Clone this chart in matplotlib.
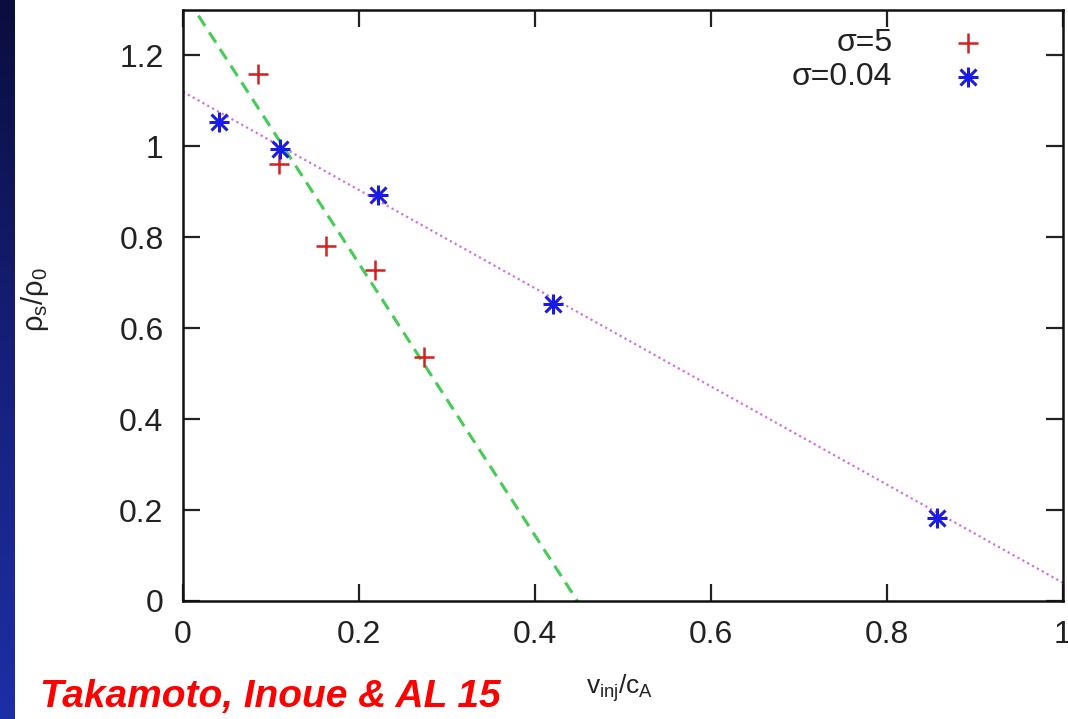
import numpy as np
import matplotlib
matplotlib.use("Agg")
import matplotlib.pyplot as plt
from matplotlib.colors import LinearSegmentedColormap

plt.rcParams['font.family'] = ['Liberation Sans', 'DejaVu Sans']
plt.rcParams['mathtext.fontset'] = 'custom'
plt.rcParams['mathtext.rm'] = 'Liberation Sans'
plt.rcParams['mathtext.it'] = 'Liberation Sans'

# sigma = 5 runs
v_sigma5 = [0.085, 0.109, 0.1625, 0.218, 0.274]
rho_sigma5 = [1.16, 0.961, 0.781, 0.728, 0.5375]
# sigma = 0.04 runs
v_sigma004 = [0.041, 0.110, 0.2216, 0.420, 0.857]
rho_sigma004 = [1.053, 0.994, 0.893, 0.654, 0.182]

# linear fits rho = a + b v
fit5_intercept, fit5_slope = 1.34, -2.99
fit004_intercept, fit004_slope = 1.12, -1.08

label5 = "σ=5"
label004 = "σ=0.04"
xticks = [0, 0.2, 0.4, 0.6, 0.8, 1]
xticklabels = ["0", "0.2", "0.4", "0.6", "0.8", "1"]
yticks = [0, 0.2, 0.4, 0.6, 0.8, 1, 1.2]
yticklabels = ["0", "0.2", "0.4", "0.6", "0.8", "1", "1.2"]

fig = plt.figure(figsize=(10.68, 7.19), dpi=100)
fig.patch.set_facecolor("white")

# dark blue strip along the left edge
strip = fig.add_axes([0, 0, 15 / 1068, 1])
grad = np.linspace(0, 1, 256).reshape(-1, 1)
cmap = LinearSegmentedColormap.from_list("strip", ["#0b0d3c", "#16207a", "#1d2fa6"])
strip.imshow(grad, aspect="auto", cmap=cmap, origin="upper", extent=[0, 1, 0, 1])
strip.set_axis_off()

ax = fig.add_axes([183 / 1068, (719 - 601) / 719, 880 / 1068, 591 / 719])
ax.set_xlim(0, 1)
ax.set_ylim(0, 1.3)

xx = np.linspace(0, 1, 200)
ax.plot(xx, fit004_intercept + fit004_slope * xx, color="#d070e0", lw=1.6,
        ls=(0, (1, 1.5)), zorder=2)
ax.plot(xx, fit5_intercept + fit5_slope * xx, color="#44cc55", lw=2.2,
        ls=(0, (4, 2.5)), zorder=2)

ms = 15
ax.plot(v_sigma5, rho_sigma5, ls="none", marker="+", ms=ms, mew=1.8,
        color="#d42020", zorder=3)
ax.plot(v_sigma004, rho_sigma004, ls="none", marker="+", ms=ms, mew=2.2,
        color="#1a1ae6", zorder=3)
ax.plot(v_sigma004, rho_sigma004, ls="none", marker="x", ms=ms * 0.75, mew=2.2,
        color="#1a1ae6", zorder=3)

# key in the upper right corner
fs = 23
ax.text(0.806, 0.945, label5, transform=ax.transAxes, ha="right", va="center",
        fontsize=fs, color="#222222")
ax.text(0.806, 0.887, label004, transform=ax.transAxes, ha="right", va="center",
        fontsize=fs, color="#222222")
ax.plot([0.892], [0.945], transform=ax.transAxes, marker="+", ms=ms, mew=1.8,
        color="#d42020", clip_on=False)
ax.plot([0.892], [0.887], transform=ax.transAxes, marker="+", ms=ms, mew=2.2,
        color="#1a1ae6", clip_on=False)
ax.plot([0.892], [0.887], transform=ax.transAxes, marker="x", ms=ms * 0.75, mew=2.2,
        color="#1a1ae6", clip_on=False)

ax.set_xticks(xticks)
ax.set_xticklabels(xticklabels)
ax.set_yticks(yticks)
ax.set_yticklabels(yticklabels)
ax.tick_params(direction="in", length=12, width=1.6, labelsize=fs,
               top=True, right=True, pad=14, colors="#222222")
for s in ax.spines.values():
    s.set_linewidth(1.8)
    s.set_color("#111111")

fig.text(35 / 1068, 1 - 300 / 719, r"$\rho_s/\rho_0$", rotation=90,
         ha="center", va="center", fontsize=21, color="#222222")
fig.text(620 / 1068, 1 - 688 / 719, r"$v_{inj}/c_A$", ha="center",
         va="center", fontsize=19, color="#222222")
fig.text(40 / 1068, 1 - 697 / 719, "Takamoto, Inoue & AL 15",
         ha="left", va="center", fontsize=28, color="#ff0000",
         fontweight="bold", fontstyle="italic")

fig.savefig("out.png", dpi=100)
